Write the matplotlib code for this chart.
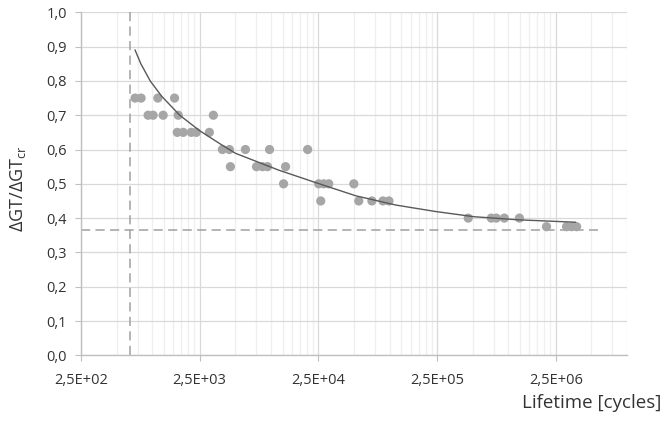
import matplotlib
matplotlib.use("Agg")
import matplotlib.pyplot as plt
from matplotlib.ticker import FixedLocator, FuncFormatter, NullFormatter

# test points: lifetime [cycles] and dGT/dGT_cr
lifetime = [715, 804, 1112, 1538,
            921, 1014, 1233, 1652, 3265,
            1620, 1820, 2128, 2345, 3020,
            3890, 4456, 6080, 9706, 20330,
            4545, 7540, 8470, 9340, 13250,
            12740, 25200, 27800, 30600, 49800,
            26200, 54800, 70700, 87600, 98400,
            458000, 716600, 790000, 923000, 1236000,
            2090000, 3085000, 3400000, 3750000]
ratio = [0.75, 0.75, 0.75, 0.75,
         0.70, 0.70, 0.70, 0.70, 0.70,
         0.65, 0.65, 0.65, 0.65, 0.65,
         0.60, 0.60, 0.60, 0.60, 0.60,
         0.55, 0.55, 0.55, 0.55, 0.55,
         0.50, 0.50, 0.50, 0.50, 0.50,
         0.45, 0.45, 0.45, 0.45, 0.45,
         0.40, 0.40, 0.40, 0.40, 0.40,
         0.375, 0.375, 0.375, 0.375]

# fitted curve
fit_n = [715, 800, 959, 1200, 1700, 2500, 3740, 5010, 11570, 25000,
         51800, 112800, 245500, 515000, 1210000, 3670000]
fit_ratio = [0.89, 0.85, 0.80, 0.755, 0.70, 0.655, 0.616, 0.589,
             0.54, 0.501, 0.465, 0.438, 0.419, 0.404, 0.395, 0.388]

# limits
n_min = 650
ratio_limit = 0.366
hline_end = 5.7e6

major_ticks = [250, 2500, 25000, 250000, 2500000]

plt.rcParams['font.family'] = ['Open Sans', 'DejaVu Sans']
plt.rcParams['mathtext.fontset'] = 'custom'
plt.rcParams['mathtext.rm'] = 'Open Sans'
plt.rcParams['mathtext.it'] = 'Open Sans'

fig = plt.figure(figsize=(6.63, 4.25), dpi=100)
ax = fig.add_axes([0.122, 0.164, 0.824, 0.807])

ax.set_xscale('log')
ax.set_xlim(250, 1e7)
ax.set_ylim(0, 1.0)

minor = []
for d in major_ticks:
    for k in range(2, 10):
        if d * k <= 1e7:
            minor.append(d * k)
ax.xaxis.set_major_locator(FixedLocator(major_ticks))
ax.xaxis.set_minor_locator(FixedLocator(minor))
ax.xaxis.set_minor_formatter(NullFormatter())
ax.xaxis.set_major_formatter(FuncFormatter(lambda v, p: f"{v:.1E}".replace('.', ',')))
ax.set_yticks([i / 10 for i in range(11)])
ax.yaxis.set_major_formatter(FuncFormatter(lambda v, p: f"{v:.1f}".replace('.', ',')))

ax.grid(True, which='major', color='#d9d9d9', lw=0.9)
ax.grid(True, which='minor', axis='x', color='#efefef', lw=0.9)
ax.set_axisbelow(True)

for s in ['top', 'right']:
    ax.spines[s].set_visible(False)
for s in ['left', 'bottom']:
    ax.spines[s].set_color('#bfbfbf')
    ax.spines[s].set_linewidth(1.0)

ax.tick_params(axis='both', which='major', length=4, color='#bfbfbf',
               labelsize=10.5, labelcolor='#333333')
ax.tick_params(axis='x', which='major', pad=9)
ax.tick_params(axis='y', which='major', pad=6)
ax.tick_params(axis='x', which='minor', length=0)

ax.scatter(lifetime, ratio, s=44, color='#a6a6a6', edgecolors='none', zorder=3)
ax.plot(fit_n, fit_ratio, color='#595959', lw=1.0, zorder=4)

ax.plot([n_min, n_min], [0, 1.015], ls=(0, (6, 3.5)), color='#a0a0a0',
        lw=1.1, clip_on=False, zorder=2)
ax.plot([250, hline_end], [ratio_limit, ratio_limit], ls=(0, (6, 3.5)),
        color='#a0a0a0', lw=1.1, zorder=2)

fig.text(0.027, 0.555, r'ΔGT/ΔGT$_{\mathrm{cr}}$', rotation=90, ha='center',
         va='center', fontsize=13, color='#333333')
fig.text(0.998, 0.04, 'Lifetime [cycles]', ha='right', va='baseline',
         fontsize=13.5, color='#333333')

fig.savefig('out.png', dpi=100)
